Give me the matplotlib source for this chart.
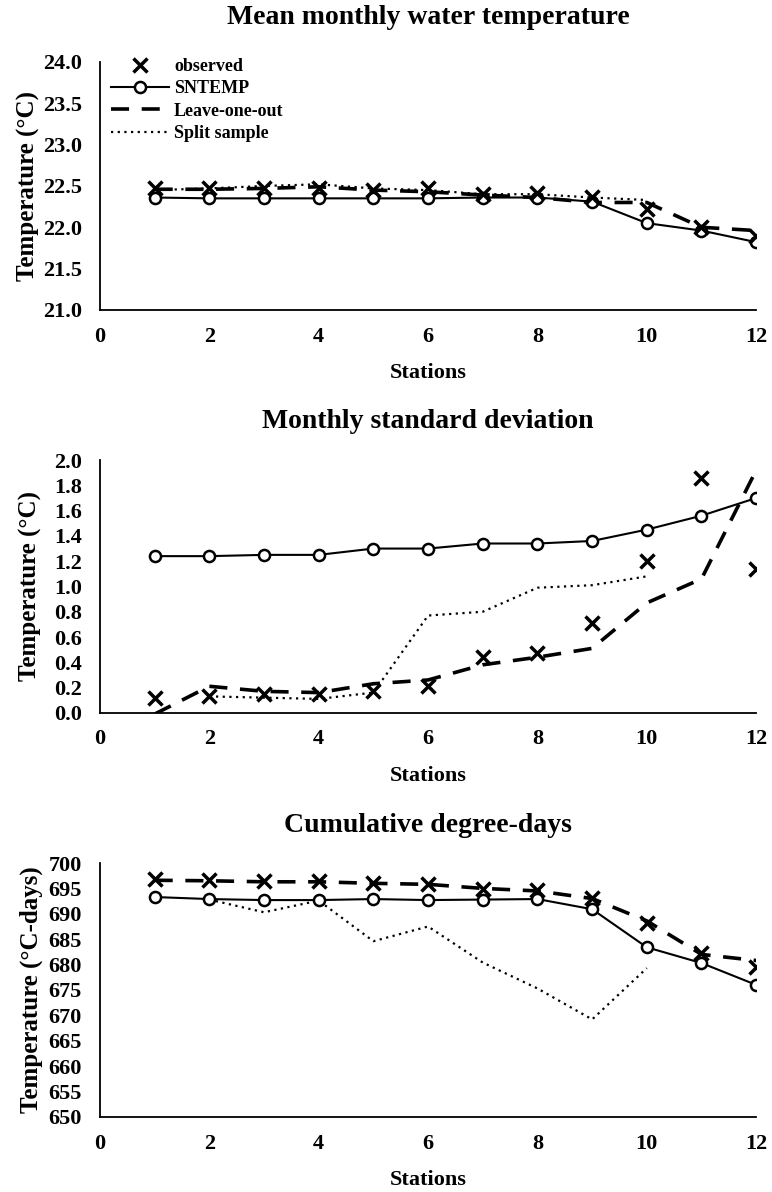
import matplotlib
matplotlib.use("Agg")
import matplotlib.pyplot as plt
import numpy as np

plt.rcParams["font.family"] = ["Liberation Serif", "DejaVu Serif"]
plt.rcParams["font.weight"] = "bold"

nan = np.nan
stations = np.arange(1, 13)

# Mean monthly water temperature
mean_obs = [22.48, 22.47, 22.47, 22.48, 22.45, 22.47, 22.40, 22.41, 22.37, 22.22, 22.00, 21.90]
mean_sntemp = [22.36, 22.35, 22.35, 22.35, 22.35, 22.35, 22.36, 22.36, 22.31, 22.05, 21.96, 21.82]
mean_loo = [22.46, 22.46, 22.47, 22.49, 22.45, 22.43, 22.39, 22.36, 22.30, 22.30, 22.00, 21.96]
mean_split = [22.45, 22.47, 22.50, 22.52, 22.47, 22.45, 22.40, 22.40, 22.36, 22.33]

# Monthly standard deviation
sd_obs = [0.12, 0.13, 0.15, 0.15, 0.17, 0.21, 0.44, 0.47, 0.71, 1.20, 1.86, 1.14]
sd_sntemp = [1.24, 1.24, 1.25, 1.25, 1.30, 1.30, 1.34, 1.34, 1.36, 1.45, 1.56, 1.70]
sd_loo = [-0.01, 0.21, 0.17, 0.16, 0.23, 0.26, 0.38, 0.44, 0.51, 0.87, 1.06, 1.92]
sd_split = [nan, 0.13, 0.12, 0.11, 0.16, 0.77, 0.80, 0.99, 1.01, 1.08]

# Cumulative degree-days
cdd_obs = [696.8, 696.7, 696.4, 696.5, 696.1, 695.9, 694.8, 694.6, 693.2, 688.2, 682.3, 679.6]
cdd_sntemp = [693.3, 692.9, 692.7, 692.7, 692.9, 692.7, 692.8, 692.9, 690.9, 683.4, 680.3, 676.0]
cdd_loo = [696.6, 696.5, 696.3, 696.3, 696.0, 695.8, 695.0, 694.5, 693.0, 688.6, 682.0, 680.8]
cdd_split = [nan, 692.8, 690.3, 692.6, 684.6, 687.5, 680.4, 675.3, 669.2, 679.3]

panels = [
    ("Mean monthly water temperature", "Temperature (°C)",
     mean_obs, mean_sntemp, mean_loo, mean_split,
     (21.0, 24.0), np.arange(21.0, 24.01, 0.5), "{:.1f}",
     [0.1295, 0.740, 0.850, 0.208], 27, -0.092),
    ("Monthly standard deviation", "Temperature (°C)",
     sd_obs, sd_sntemp, sd_loo, sd_split,
     (0.0, 2.0), np.arange(0.0, 2.01, 0.2), "{:.1f}",
     [0.1295, 0.402, 0.850, 0.212], 23, -0.088),
    ("Cumulative degree-days", "Temperature (°C-days)",
     cdd_obs, cdd_sntemp, cdd_loo, cdd_split,
     (650, 700), np.arange(650, 701, 5), "{:.0f}",
     [0.1295, 0.063, 0.850, 0.213], 22, -0.087),
]

fig = plt.figure(figsize=(7.72, 11.92), dpi=100)

for i, (title, ylabel, obs, sn, loo, split, ylim, yticks, fmt, pos,
        tpad, ylab_x) in enumerate(panels):
    ax = fig.add_axes(pos)
    ax.plot(stations, sn, "-", color="black", lw=1.5, marker="o", ms=8,
            mfc="white", mec="black", mew=1.8, label="SNTEMP", zorder=3)
    ax.plot(stations, loo, color="black", lw=2.6, dashes=(5, 3.5),
            label="Leave-one-out", zorder=2)
    ax.plot(stations[:len(split)], split, color="black", lw=1.6,
            linestyle=(0, (1, 2)), label="Split sample", zorder=2)
    ax.plot(stations, obs, "x", color="black", ms=10, mew=2.5,
            label="observed", zorder=4)

    ax.set_xlim(0, 12)
    ax.set_ylim(*ylim)
    ax.set_xticks(np.arange(0, 13, 2))
    ax.set_yticks(yticks)
    ax.set_yticklabels([fmt.format(v) for v in yticks])
    ax.tick_params(length=0, labelsize=16)
    ax.tick_params(axis="y", pad=13)
    ax.tick_params(axis="x", pad=12)
    for s in ("top", "right"):
        ax.spines[s].set_visible(False)
    for s in ("left", "bottom"):
        ax.spines[s].set_linewidth(1.3)
    ax.set_xlabel("Stations", fontsize=16, fontweight="bold", labelpad=12)
    ax.set_ylabel(ylabel, fontsize=18, fontweight="bold")
    ax.yaxis.set_label_coords(ylab_x, 0.5)
    ax.set_title(title, fontsize=20, fontweight="bold", pad=tpad)

    if i == 0:
        h, l = ax.get_legend_handles_labels()
        order = [3, 0, 1, 2]
        ax.legend([h[k] for k in order], [l[k] for k in order],
                  loc="upper left", bbox_to_anchor=(0.0, 1.06), frameon=False,
                  prop={"size": 13, "weight": "bold"}, handlelength=3.2,
                  handletextpad=0.3, labelspacing=0.3, borderaxespad=0.2)

fig.savefig("out.png", dpi=100)
